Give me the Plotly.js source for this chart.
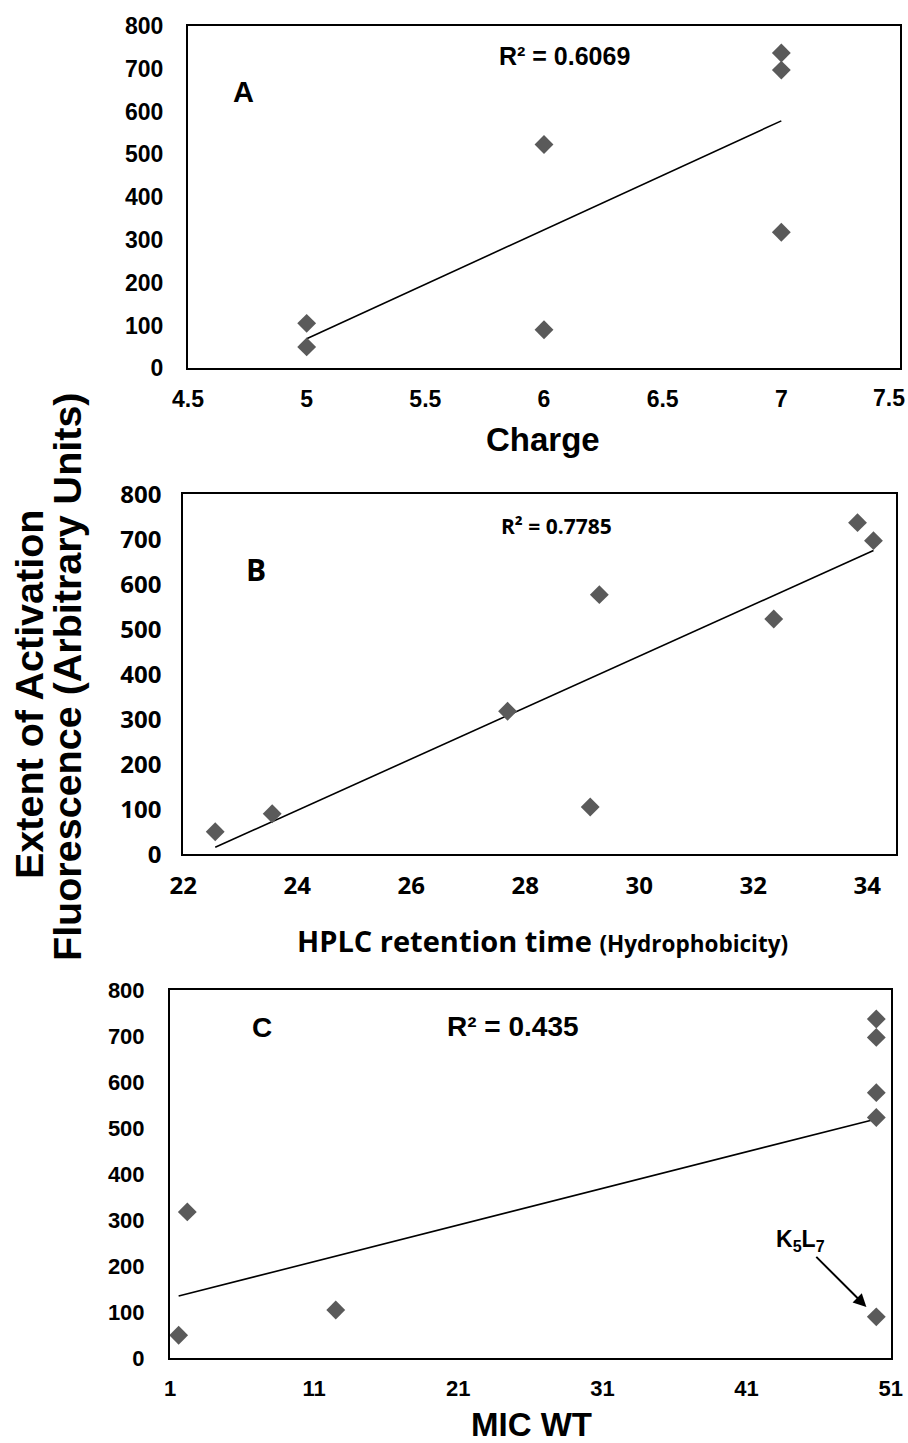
<!DOCTYPE html>
<html><head><meta charset="utf-8">
<script src="https://cdn.plot.ly/plotly-3.0.1.min.js"></script>
<style>html,body{margin:0;padding:0;background:#fff}</style>
</head><body><div id="chart" style="width:908px;height:1443px"></div>
<script>
// Panel A: Charge
const chargeX = [5, 5, 6, 6, 7, 7, 7];
const chargeY = [105, 50, 523, 90, 737, 697, 318];
// Panel B: HPLC retention time
const hplcX = [22.56, 23.56, 27.69, 29.30, 29.14, 32.36, 33.83, 34.11];
const hplcY = [50, 90, 318, 577, 105, 523, 737, 697];
// Panel C: MIC WT
const micX = [1.6, 2.2, 12.5, 50, 50, 50, 50, 50];
const micY = [50, 318, 105, 737, 697, 577, 523, 90];

// tick labels
const chargeTicks = [4.5, 5, 5.5, 6, 6.5, 7];
const chargeLastTick = 7.5;
const hplcTicks = [22, 24, 26, 28, 30, 32, 34];
const micTicks = [1, 11, 21, 31, 41, 51];
const yTicks = [0, 100, 200, 300, 400, 500, 600, 700, 800];

const r2Labels = ['R² = 0.6069', 'R² = 0.7785', 'R² = 0.435'];
const panelLabels = ['A', 'B', 'C'];
const xTitleA = 'Charge';
const xTitleB = 'HPLC retention time';
const xTitleBsub = '(Hydrophobicity)';
const xTitleC = 'MIC WT';
const yTitle1 = 'Extent of Activation';
const yTitle2 = 'Fluorescence (Arbitrary Units)';
const calloutLabel = 'K<sub>5</sub>L<sub>7</sub>';

const W = 908, H = 1443;
const px = v => v / W;
const py = v => 1 - v / H;

function fit(xs, ys) {
  const n = xs.length;
  const mx = xs.reduce((a, b) => a + b, 0) / n;
  const my = ys.reduce((a, b) => a + b, 0) / n;
  let sxy = 0, sxx = 0;
  for (let i = 0; i < n; i++) { sxy += (xs[i] - mx) * (ys[i] - my); sxx += (xs[i] - mx) ** 2; }
  const b = sxy / sxx, a = my - b * mx;
  const x0 = Math.min(...xs), x1 = Math.max(...xs);
  return { x: [x0, x1], y: [a + b * x0, a + b * x1] };
}

const ARIAL = 'Liberation Sans, Arial, sans-serif';
const CAL = 'Open Sans, Noto Sans, sans-serif';
const markerStyle = { symbol: 'diamond', size: 14.5, color: '#5a5a5a', line: { width: 0 } };
const lineStyle = { color: '#000', width: 1.6 };

const sets = [[chargeX, chargeY, 'x', 'y'], [hplcX, hplcY, 'x2', 'y2'], [micX, micY, 'x3', 'y3']];
const traces = [];
sets.forEach(([xs, ys, xa, ya]) => {
  const f = fit(xs, ys);
  traces.push({ x: f.x, y: f.y, xaxis: xa, yaxis: ya, mode: 'lines', line: lineStyle, hoverinfo: 'skip' });
  traces.push({ x: xs, y: ys, xaxis: xa, yaxis: ya, mode: 'markers', marker: markerStyle });
});

function ax(extra, fam, size) {
  return Object.assign({
    showline: true, mirror: true, linecolor: '#000', linewidth: 2,
    showgrid: false, zeroline: false, ticks: '', ticklabeloverflow: 'allow',
    tickfont: { family: fam, size: size, color: '#000', weight: 'bold' }
  }, extra);
}

const layout = {
  width: W, height: H, margin: { l: 0, r: 0, t: 0, b: 0 },
  paper_bgcolor: '#fff', plot_bgcolor: '#fff', showlegend: false,
  xaxis: ax({ domain: [px(188), px(900)], range: [4.5, 7.5], tickmode: 'array', tickvals: chargeTicks, anchor: 'y', ticklabelstandoff: 9 }, ARIAL, 23),
  yaxis: ax({ domain: [py(368.3), py(26)], range: [0, 800], tickmode: 'array', tickvals: yTicks, anchor: 'x', ticklabelstandoff: 18 }, ARIAL, 23),
  xaxis2: ax({ domain: [px(183.3), px(895.7)], range: [22, 34.5], tickmode: 'array', tickvals: hplcTicks, anchor: 'y2', ticklabelstandoff: 9 }, CAL, 24),
  yaxis2: ax({ domain: [py(854.3), py(494.3)], range: [0, 800], tickmode: 'array', tickvals: yTicks, anchor: 'x2', ticklabelstandoff: 15 }, CAL, 24),
  xaxis3: ax({ domain: [px(170), px(890.7)], range: [1, 51], tickmode: 'array', tickvals: micTicks, anchor: 'y3', ticklabelstandoff: 9 }, ARIAL, 22),
  yaxis3: ax({ domain: [py(1358.3), py(990)], range: [0, 800], tickmode: 'array', tickvals: yTicks, anchor: 'x3', ticklabelstandoff: 19 }, ARIAL, 22),
  annotations: [
    { text: String(chargeLastTick), xref: 'x', x: chargeLastTick, xanchor: 'right', xshift: 7, y: py(398),
      font: { family: ARIAL, size: 23, weight: 'bold', color: '#000' } },
    { text: panelLabels[0], x: px(244), y: py(92), font: { family: ARIAL, size: 29, weight: 'bold', color: '#000' } },
    { text: r2Labels[0], x: px(564), y: py(56), font: { family: ARIAL, size: 25, weight: 'bold', color: '#000' } },
    { text: xTitleA, x: px(543), y: py(440), font: { family: ARIAL, size: 33, weight: 'bold', color: '#000' } },
    { text: panelLabels[1], x: px(256), y: py(569), font: { family: CAL, size: 30, weight: 'bold', color: '#000' } },
    { text: r2Labels[1], x: px(556), y: py(526), font: { family: CAL, size: 21, weight: 'bold', color: '#000' } },
    { text: xTitleB + ' <span style="font-size:22.5px">' + xTitleBsub + '</span>', x: px(542), y: py(940), font: { family: CAL, size: 29, weight: 'bold', color: '#000' } },
    { text: panelLabels[2], x: px(262), y: py(1027), font: { family: ARIAL, size: 28, weight: 'bold', color: '#000' } },
    { text: r2Labels[2], x: px(513), y: py(1026), font: { family: ARIAL, size: 28, weight: 'bold', color: '#000' } },
    { text: xTitleC, x: px(531), y: py(1424), font: { family: ARIAL, size: 33, weight: 'bold', color: '#000' } },
    { text: yTitle1, x: px(29), y: py(695), textangle: -90, font: { family: ARIAL, size: 39.5, weight: 'bold', color: '#000' } },
    { text: yTitle2, x: px(67), y: py(677), textangle: -90, font: { family: ARIAL, size: 39.5, weight: 'bold', color: '#000' } },
    { text: calloutLabel, xref: 'x3', yref: 'y3', x: micX[7], y: micY[7], ax: -76, ay: -76,
      showarrow: true, arrowhead: 2, arrowsize: 1.3, arrowwidth: 2, arrowcolor: '#000', standoff: 14,
      font: { family: ARIAL, size: 23, weight: 'bold', color: '#000' } }
  ].map(a => Object.assign({ xref: 'paper', yref: 'paper', showarrow: false, xanchor: 'center', yanchor: 'middle' }, a))
};

Plotly.newPlot('chart', traces, layout, { staticPlot: true, displayModeBar: false });
</script></body></html>
